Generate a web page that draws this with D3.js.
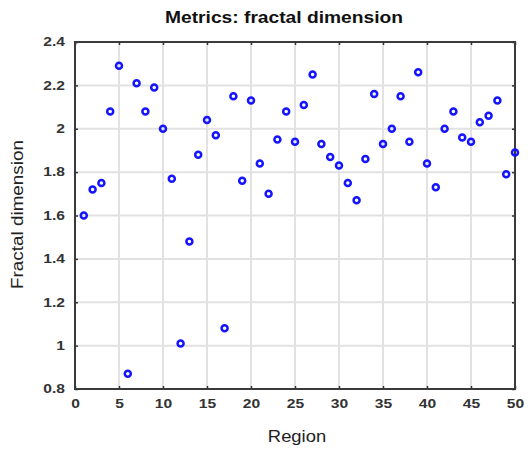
<!DOCTYPE html>
<html>
<head>
<meta charset="utf-8">
<script src="https://cdn.jsdelivr.net/npm/d3@7"></script>
<style>
  body { margin: 0; background: #fff; }
  svg { font-family: "Liberation Sans", Arial, sans-serif; }
  .tick-label { font-size: 12px; font-weight: bold; fill: #333; }
</style>
</head>
<body>
<svg></svg>
<script>
// Chart data: region index and fractal dimension value
const regions = d3.range(1, 51);
const fractalDim = [
    1.60, 1.72, 1.75, 2.08, 2.29, 0.87, 2.21, 2.08, 2.19, 2.00,
    1.77, 1.01, 1.48, 1.88, 2.04, 1.97, 1.08, 2.15, 1.76, 2.13,
    1.84, 1.70, 1.95, 2.08, 1.94, 2.11, 2.25, 1.93, 1.87, 1.83,
    1.75, 1.67, 1.86, 2.16, 1.93, 2.00, 2.15, 1.94, 2.26, 1.84,
    1.73, 2.00, 2.08, 1.96, 1.94, 2.03, 2.06, 2.13, 1.79, 1.89
];
const xTicks = [0, 5, 10, 15, 20, 25, 30, 35, 40, 45, 50];
const yTicks = [0.8, 1, 1.2, 1.4, 1.6, 1.8, 2, 2.2, 2.4];

const totalW = 531, totalH = 449;
const margin = { top: 42, right: 16, bottom: 60, left: 75 };
const width = totalW - margin.left - margin.right;
const height = totalH - margin.top - margin.bottom;

// the reference type is a bit wide, so stretch texts horizontally
function stretch(sel, k) {
    sel.each(function () {
        const len = this.getComputedTextLength();
        d3.select(this)
            .attr('textLength', len * k)
            .attr('lengthAdjust', 'spacingAndGlyphs');
    });
}

const svg = d3.select('svg')
    .attr('width', totalW)
    .attr('height', totalH);

const g = svg.append('g')
    .attr('transform', `translate(${margin.left}, ${margin.top})`);

const x = d3.scaleLinear().domain([0, 50]).range([0, width]);
const y = d3.scaleLinear().domain([0.8, 2.4]).range([height, 0]);

// grid
g.append('g').selectAll('line')
    .data(xTicks.slice(1, -1))
    .enter().append('line')
    .attr('x1', d => x(d)).attr('x2', d => x(d))
    .attr('y1', 0).attr('y2', height)
    .attr('stroke', '#e2e2e2').attr('stroke-width', 2);

g.append('g').selectAll('line')
    .data(yTicks.slice(1, -1))
    .enter().append('line')
    .attr('y1', d => y(d)).attr('y2', d => y(d))
    .attr('x1', 0).attr('x2', width)
    .attr('stroke', '#e2e2e2').attr('stroke-width', 2);

// axes (ticks pointing inward, mirrored on the opposite side)
const xAxis = g.append('g')
    .attr('transform', `translate(0, ${height})`)
    .call(d3.axisBottom(x).tickValues(xTicks).tickSize(-3).tickPadding(10).tickFormat(d3.format('d')));
const xAxisTop = g.append('g')
    .call(d3.axisTop(x).tickValues(xTicks).tickSize(-3).tickFormat(''));
const yAxis = g.append('g')
    .call(d3.axisLeft(y).tickValues(yTicks).tickSize(-3).tickPadding(10).tickFormat(d => d3.format('')(+d.toFixed(1))));
const yAxisRight = g.append('g')
    .attr('transform', `translate(${width}, 0)`)
    .call(d3.axisRight(y).tickValues(yTicks).tickSize(-3).tickFormat(''));

[xAxis, xAxisTop, yAxis, yAxisRight].forEach(a => {
    a.select('.domain').remove();
    a.selectAll('.tick line').attr('stroke', '#333').attr('stroke-width', 1.5);
    a.selectAll('.tick text').attr('class', 'tick-label').attr('font-size', null).attr('font-family', null);
});
stretch(xAxis.selectAll('.tick text'), 1.3);
stretch(yAxis.selectAll('.tick text'), 1.3);

// frame
g.append('rect')
    .attr('width', width).attr('height', height)
    .attr('fill', 'none').attr('stroke', '#3a3a3a').attr('stroke-width', 2);

// points
g.append('g').selectAll('circle')
    .data(regions)
    .enter().append('circle')
    .attr('cx', d => x(d))
    .attr('cy', (d, i) => y(fractalDim[i]))
    .attr('r', 3)
    .attr('fill', 'none')
    .attr('stroke', '#1414ff')
    .attr('stroke-width', 2.5);

// titles
const title = svg.append('text')
    .attr('x', 284)
    .attr('y', 23)
    .attr('text-anchor', 'middle')
    .attr('font-size', 16)
    .attr('font-weight', 'bold')
    .attr('fill', '#111')
    .text('Metrics: fractal dimension');
stretch(title, 1.2);

const xLabel = svg.append('text')
    .attr('x', 297)
    .attr('y', 442)
    .attr('text-anchor', 'middle')
    .attr('font-size', 16)
    .attr('fill', '#222')
    .text('Region');
stretch(xLabel, 1.15);

const yLabel = svg.append('text')
    .attr('transform', `translate(23, ${margin.top + height / 2 - 1}) rotate(-90)`)
    .attr('text-anchor', 'middle')
    .attr('font-size', 16)
    .attr('fill', '#222')
    .text('Fractal dimension');
stretch(yLabel, 1.18);
</script>
</body>
</html>
